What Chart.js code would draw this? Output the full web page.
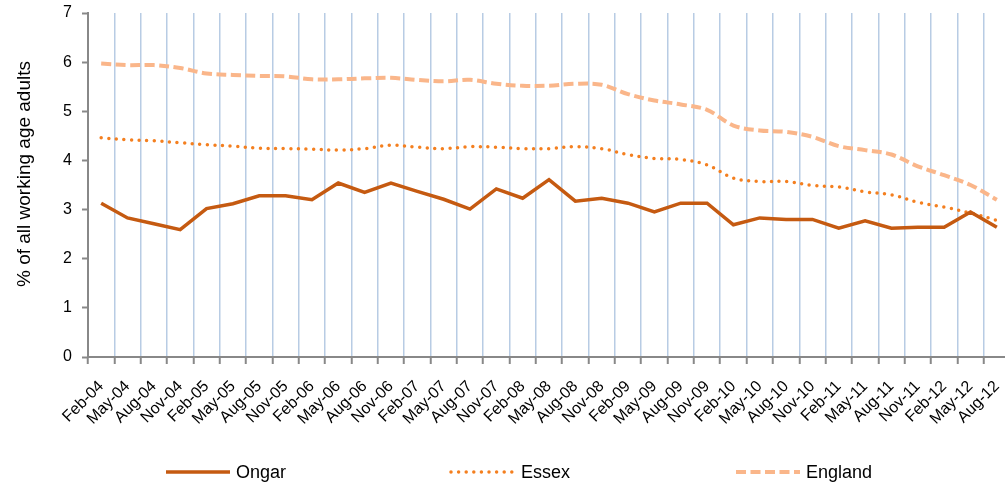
<!DOCTYPE html>
<html>
<head>
<meta charset="utf-8">
<title>Working age adults</title>
<script src="https://cdn.jsdelivr.net/npm/chart.js@4/dist/chart.umd.min.js"></script>
<style>
  html, body { margin: 0; padding: 0; background: #fff; overflow: hidden; }
  #wrap { position: absolute; left: 0; top: 0; width: 1010px; height: 488px; }
</style>
</head>
<body>
<div id="wrap"><canvas id="chart"></canvas></div>
<script>
/* ---- data ---- */
const quarters = [
    'Feb-04', 'May-04', 'Aug-04', 'Nov-04', 'Feb-05', 'May-05', 'Aug-05', 'Nov-05',
    'Feb-06', 'May-06', 'Aug-06', 'Nov-06', 'Feb-07', 'May-07', 'Aug-07', 'Nov-07',
    'Feb-08', 'May-08', 'Aug-08', 'Nov-08', 'Feb-09', 'May-09', 'Aug-09', 'Nov-09',
    'Feb-10', 'May-10', 'Aug-10', 'Nov-10', 'Feb-11', 'May-11', 'Aug-11', 'Nov-11',
    'Feb-12', 'May-12', 'Aug-12'
];
const ongar = [3.13, 2.83, 2.71, 2.59, 3.02, 3.12, 3.28, 3.28, 3.20, 3.54, 3.35, 3.54,
    3.37, 3.21, 3.01, 3.42, 3.23, 3.61, 3.17, 3.23, 3.13, 2.95, 3.13, 3.13, 2.69, 2.83,
    2.80, 2.80, 2.62, 2.77, 2.62, 2.64, 2.64, 2.95, 2.64];
const essex = [4.46, 4.42, 4.40, 4.36, 4.32, 4.29, 4.25, 4.24, 4.23, 4.21, 4.24, 4.31,
    4.27, 4.24, 4.28, 4.27, 4.24, 4.24, 4.28, 4.24, 4.12, 4.04, 4.02, 3.91, 3.64, 3.57,
    3.57, 3.49, 3.46, 3.36, 3.30, 3.15, 3.05, 2.93, 2.78];
const england = [5.97, 5.94, 5.94, 5.88, 5.77, 5.74, 5.72, 5.71, 5.65, 5.65, 5.67, 5.68,
    5.64, 5.61, 5.64, 5.56, 5.52, 5.52, 5.56, 5.54, 5.35, 5.22, 5.14, 5.03, 4.71, 4.61,
    4.58, 4.48, 4.29, 4.21, 4.12, 3.88, 3.70, 3.50, 3.20];
const yTicks = [0, 1, 2, 3, 4, 5, 6, 7];
const yTitle = '% of all working age adults';

const FONT = '"Liberation Sans", Arial, sans-serif';
const AXIS_GREY = '#888888';

/* rotated y title, placed like the original (a bit above centre) */
const sideTitle = {
    id: 'sideTitle',
    afterDraw(chart) {
        const { ctx, chartArea } = chart;
        ctx.save();
        ctx.translate(25, chartArea.top + 161);
        ctx.rotate(-Math.PI / 2);
        ctx.font = '19px ' + FONT;
        ctx.fillStyle = '#000';
        ctx.textAlign = 'center';
        ctx.textBaseline = 'middle';
        ctx.fillText(yTitle, 0, 0);
        ctx.restore();
    }
};

/* bottom legend with evenly spaced entries */
const spacedLegend = {
    id: 'spacedLegend',
    afterDraw(chart) {
        const { ctx } = chart;
        const y = 472;
        chart.data.datasets.forEach((ds, i) => {
            const x0 = 166 + i * 285;
            ctx.save();
            ctx.strokeStyle = ds.borderColor;
            ctx.lineWidth = ds.borderWidth;
            ctx.lineCap = ds.borderCapStyle || 'butt';
            ctx.setLineDash(ds.borderDash || []);
            ctx.beginPath();
            ctx.moveTo(x0, y);
            ctx.lineTo(x0 + 64, y);
            ctx.stroke();
            ctx.setLineDash([]);
            ctx.font = '18px ' + FONT;
            ctx.fillStyle = '#000';
            ctx.textBaseline = 'middle';
            ctx.fillText(ds.label, x0 + 70, y + 1);
            ctx.restore();
        });
    }
};

new Chart(document.getElementById('chart'), {
    type: 'line',
    data: {
        labels: quarters,
        datasets: [
            {
                label: 'Ongar',
                data: ongar,
                borderColor: '#c55a11',
                borderWidth: 3.5,
                tension: 0,
                pointRadius: 0,
            },
            {
                label: 'Essex',
                data: essex,
                borderColor: '#f47f1f',
                borderWidth: 3.5,
                borderDash: [0, 7.6],
                borderCapStyle: 'round',
                tension: 0.35,
                pointRadius: 0,
            },
            {
                label: 'England',
                data: england,
                borderColor: '#fab68a',
                borderWidth: 4,
                borderDash: [10, 4.5],
                tension: 0.35,
                pointRadius: 0,
            },
        ],
    },
    options: {
        responsive: true,
        maintainAspectRatio: false,
        animation: false,
        layout: { padding: { top: 13, right: 0, bottom: 0, left: 0 } },
        plugins: {
            legend: { display: false },
            tooltip: { enabled: false },
        },
        scales: {
            x: {
                offset: true,
                grid: {
                    offset: true,
                    color: '#b8cce4',
                    lineWidth: 1.5,
                    tickColor: AXIS_GREY,
                    tickLength: 7,
                    tickWidth: 2,
                },
                border: { color: AXIS_GREY, width: 2 },
                ticks: {
                    autoSkip: false,
                    minRotation: 45,
                    maxRotation: 45,
                    padding: 13,
                    color: '#000',
                    font: { family: FONT, size: 16 },
                },
                afterFit: scale => {
                    scale.height = 131;
                    scale.paddingLeft = 0;
                    scale.paddingRight = 0;
                },
            },
            y: {
                min: 0,
                max: 7,
                afterBuildTicks: scale => { scale.ticks = yTicks.map(v => ({ value: v })); },
                grid: {
                    drawOnChartArea: false,
                    tickColor: AXIS_GREY,
                    tickLength: 6,
                    tickWidth: 2,
                },
                border: { color: AXIS_GREY, width: 2 },
                ticks: {
                    padding: 10,
                    color: '#000',
                    font: { family: FONT, size: 16 },
                },
                afterFit: scale => {
                    scale.width = 88;
                    scale.paddingTop = 0;
                    scale.paddingBottom = 0;
                },
            },
        },
    },
    plugins: [sideTitle, spacedLegend],
});
</script>
</body>
</html>
